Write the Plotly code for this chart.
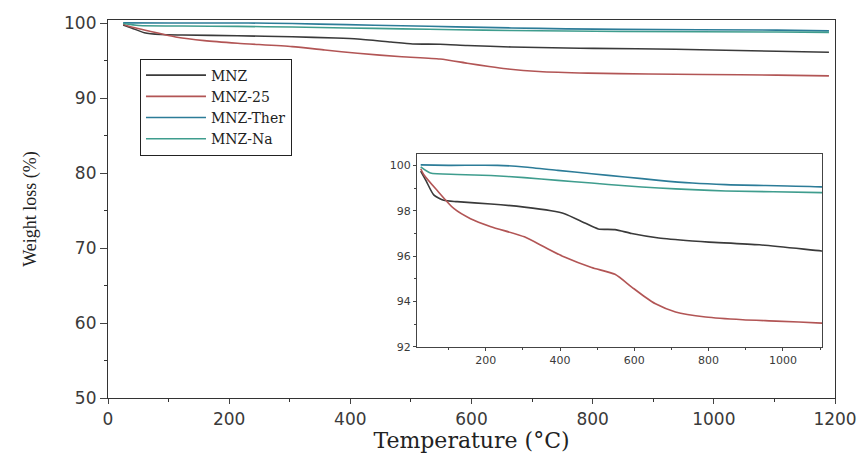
import plotly.graph_objects as go

# ---- data ----
mnz_T = [25, 40, 60, 87, 123, 214, 304, 376, 412, 467, 503, 548, 593, 666, 756, 801, 937, 1104, 1190]
mnz_W = [99.75, 99.3, 98.7, 98.46, 98.4, 98.3, 98.16, 98.0, 97.87, 97.46, 97.2, 97.17, 97.0, 96.8, 96.67, 96.62, 96.5, 96.23, 96.1]

mnz25_T = [25, 33, 69, 114, 159, 214, 304, 358, 412, 485, 548, 593, 629, 657, 711, 792, 892, 982, 1104, 1190]
mnz25_W = [99.85, 99.6, 98.9, 98.1, 97.65, 97.3, 96.85, 96.4, 95.96, 95.5, 95.2, 94.64, 94.2, 93.9, 93.54, 93.32, 93.2, 93.14, 93.05, 92.95]

ther_T = [25, 100, 232, 304, 394, 485, 575, 666, 756, 846, 1104, 1190]
ther_W = [100.02, 100.0, 100.0, 99.93, 99.78, 99.63, 99.49, 99.34, 99.22, 99.15, 99.05, 98.95]

na_T = [25, 51, 123, 214, 304, 394, 485, 575, 666, 756, 846, 1104, 1190]
na_W = [99.93, 99.66, 99.6, 99.55, 99.46, 99.34, 99.22, 99.1, 99.0, 98.93, 98.87, 98.8, 98.75]

names = ["MNZ", "MNZ-25", "MNZ-Ther", "MNZ-Na"]
colors = ["#3a3a3a", "#b25555", "#2c7c98", "#3f9d8e"]
series = [(mnz_T, mnz_W), (mnz25_T, mnz25_W), (ther_T, ther_W), (na_T, na_W)]

main_x_ticks = [0, 200, 400, 600, 800, 1000, 1200]
main_y_ticks = [50, 60, 70, 80, 90, 100]
inset_x_ticks = [200, 400, 600, 800, 1000]
inset_y_ticks = [92, 94, 96, 98, 100]

fig = go.Figure()
for (t, w), n, c in zip(series, names, colors):
    fig.add_trace(go.Scatter(x=t, y=w, mode="lines", name=n,
                             line=dict(color=c, width=1.6, shape="spline", smoothing=0.6),
                             xaxis="x", yaxis="y"))
for (t, w), n, c in zip(series, names, colors):
    fig.add_trace(go.Scatter(x=t, y=w, mode="lines", name=n, showlegend=False,
                             line=dict(color=c, width=1.6, shape="spline", smoothing=0.6),
                             xaxis="x2", yaxis="y2"))

tickfont = dict(family="DejaVu Sans", size=17, color="#3a3a3a")
inset_tickfont = dict(family="DejaVu Sans", size=11, color="#3a3a3a")
fig.update_layout(
    width=861, height=457,
    margin=dict(l=108, r=26, t=20, b=59, autoexpand=False),
    paper_bgcolor="white", plot_bgcolor="white",
    showlegend=True,
    legend=dict(x=0.044, y=0.898, xanchor="left", yanchor="top",
                bordercolor="#222222", borderwidth=1, bgcolor="white",
                font=dict(family="DejaVu Serif", size=14, color="#222222"),
                tracegroupgap=0, itemwidth=60),
    xaxis=dict(range=[0, 1200], tickvals=main_x_ticks, ticks="outside", ticklen=5,
               minor=dict(dtick=100, ticks="outside", ticklen=3, tickcolor="#333"),
               showgrid=False, zeroline=False, showline=True, linecolor="#333333",
               linewidth=1.2, mirror=True, tickfont=tickfont, automargin=False,
               ticklabeloverflow="allow",
               title=dict(text="Temperature (°C)", standoff=3,
                          font=dict(family="DejaVu Serif", size=22, color="#222222"))),
    yaxis=dict(range=[50, 100.4], tickvals=main_y_ticks, ticks="outside", ticklen=7,
               minor=dict(dtick=5, ticks="outside", ticklen=3, tickcolor="#333"),
               showgrid=False, zeroline=False, showline=True, linecolor="#333333",
               linewidth=1.2, mirror=True, tickfont=tickfont, automargin=False,
               ticklabeloverflow="allow",
               title=dict(text="Weight loss (%)", standoff=22,
                          font=dict(family="Liberation Serif", size=18, color="#222222"))),
    xaxis2=dict(domain=[0.425, 0.982], anchor="y2", range=[15, 1105],
                tickvals=inset_x_ticks, ticks="outside", ticklen=3,
                minor=dict(dtick=100, ticks="outside", ticklen=2, tickcolor="#444"),
                showgrid=False, zeroline=False, showline=True, linecolor="#444444",
                linewidth=1, mirror=True, tickfont=inset_tickfont),
    yaxis2=dict(domain=[0.135, 0.6455], anchor="x2", range=[92, 100.5],
                tickvals=inset_y_ticks, ticks="outside", ticklen=3,
                minor=dict(dtick=1, ticks="outside", ticklen=2, tickcolor="#444"),
                showgrid=False, zeroline=False, showline=True, linecolor="#444444",
                linewidth=1, mirror=True, tickfont=inset_tickfont),
)

fig.write_html("out.html")
